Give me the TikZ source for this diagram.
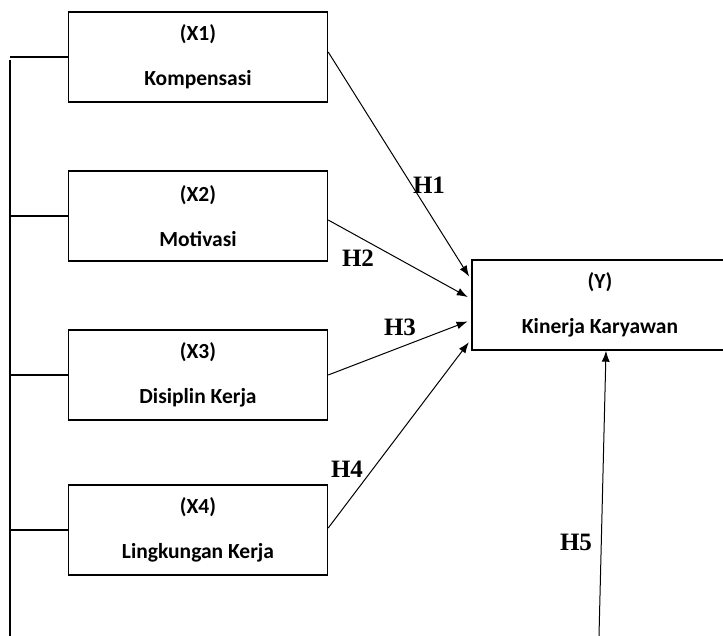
\documentclass[tikz,border=0pt]{standalone}
\usepackage{fontspec}
\usetikzlibrary{arrows.meta}
\newfontfamily\boxfont{Carlito}
\newfontfamily\hypfont{Liberation Serif}

\begin{document}
\begin{tikzpicture}[x=1pt, y=-1pt, line width=1.4pt, >={Latex[length=11pt,width=8pt]}]
  \tikzset{
    varbox/.style={draw, minimum width=259pt, minimum height=90pt, align=center,
      font=\boxfont\bfseries\fontsize{21.5}{26}\selectfont},
    hyp/.style={font=\hypfont\bfseries\fontsize{25}{28}\selectfont},
    path/.style={line width=1pt, ->, shorten >=4pt}
  }
  \useasboundingbox (0,0) rectangle (723,636);

  % independent variables
  \foreach \n/\y/\t in {1/57/Kompensasi,2/216/Motivasi,3/375/Disiplin Kerja,4/530/Lingkungan Kerja}{
    \node[varbox] (x\n) at (198,\y) {(X\n)\\[19pt]\t};
  }
  \node[varbox, minimum width=256pt] (y) at (600,305) {(Y)\\[19pt]Kinerja Karyawan};

  % left bracket line
  \coordinate (top) at (10,60);
  \coordinate (bot) at (10,636);
  \draw (top) -- (bot);
  \foreach \n in {1,...,4}{
    \draw (x\n.west) -- (x\n.west -| top);
  }

  % hypotheses
  \draw[path] ([yshift=5pt]x1.east) -- ([yshift=25pt]y.west);
  \draw[path] ([yshift=-4pt]x2.east) -- ([yshift=6pt]y.west);
  \draw[path] (x3.east) -- ([yshift=-15pt]y.west);
  \draw[path] ([yshift=2pt]x4.east) -- ([yshift=-34pt]y.west);
  \coordinate (h5) at (599,636);
  \draw[path, shorten >=0pt] (h5) -- ([xshift=6pt]y.south);

  \node[hyp] (h1) at (429,185) {H1};
  \node[hyp] (h2) at (358,258) {H2};
  \node[hyp] (h3) at (400,327) {H3};
  \node[hyp] (h4) at (347,469) {H4};
  \node[hyp] (h5l) at (576,542) {H5};
\end{tikzpicture}
\end{document}
